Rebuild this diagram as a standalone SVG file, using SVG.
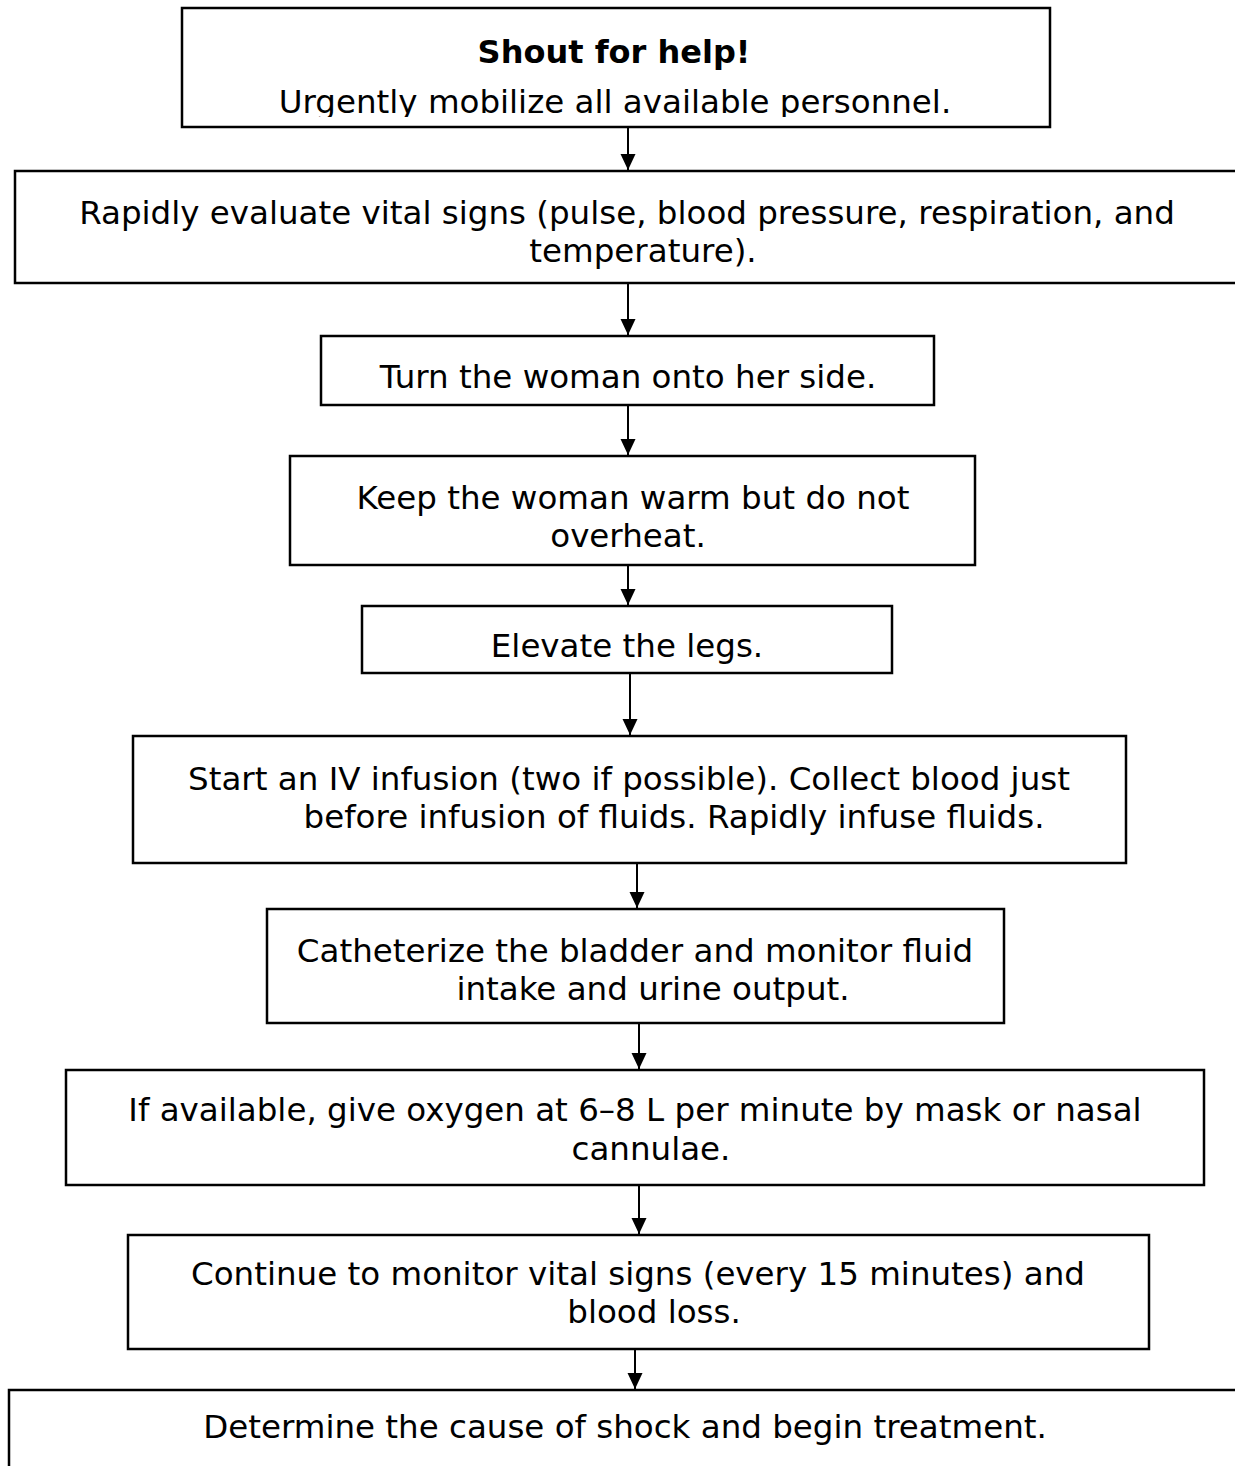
<svg xmlns="http://www.w3.org/2000/svg" width="1235" height="1466" viewBox="0 0 1235 1466">
<style>
.box{fill:#fff;stroke:#000;stroke-width:2.5}
.t{font-family:"DejaVu Sans",Verdana,sans-serif;font-size:32.5px;fill:#000;text-anchor:middle}
.b{font-weight:bold;font-size:32px}
.c{stroke:#000;stroke-width:2;fill:none}
</style>
<defs>
<marker id="a" viewBox="0 0 16 16" refX="16" refY="8" markerWidth="16" markerHeight="16" markerUnits="userSpaceOnUse" orient="auto"><path d="M0,0.5 L16,8 L0,15.5 Z" fill="#000"/></marker>
<clipPath id="clip1"><rect x="182" y="7" width="868" height="110"/></clipPath>
</defs>
<g id="connectors">
<line class="c" x1="628" y1="127" x2="628" y2="170" marker-end="url(#a)"/>
<line class="c" x1="628" y1="283" x2="628" y2="335" marker-end="url(#a)"/>
<line class="c" x1="628" y1="405" x2="628" y2="455" marker-end="url(#a)"/>
<line class="c" x1="628" y1="565" x2="628" y2="605" marker-end="url(#a)"/>
<line class="c" x1="630" y1="673" x2="630" y2="735" marker-end="url(#a)"/>
<line class="c" x1="637" y1="863" x2="637" y2="908" marker-end="url(#a)"/>
<line class="c" x1="639" y1="1023" x2="639" y2="1069" marker-end="url(#a)"/>
<line class="c" x1="639" y1="1185" x2="639" y2="1234" marker-end="url(#a)"/>
<line class="c" x1="635" y1="1349" x2="635" y2="1389" marker-end="url(#a)"/>
</g>
<g id="n1">
<rect class="box" x="182" y="8" width="868" height="119"/>
<text class="t b" x="614" y="63">Shout for help!</text>
<text class="t" x="615" y="113" clip-path="url(#clip1)">Urgently mobilize all available personnel.</text>
</g>
<g id="n2">
<rect class="box" x="15" y="171" width="1240" height="112"/>
<text class="t" x="627" y="224">Rapidly evaluate vital signs (pulse, blood pressure, respiration, and</text>
<text class="t" x="643" y="262">temperature).</text>
</g>
<g id="n3">
<rect class="box" x="321" y="336" width="613" height="69"/>
<text class="t" x="628" y="388">Turn the woman onto her side.</text>
</g>
<g id="n4">
<rect class="box" x="290" y="456" width="685" height="109"/>
<text class="t" x="633" y="509">Keep the woman warm but do not</text>
<text class="t" x="628" y="547">overheat.</text>
</g>
<g id="n5">
<rect class="box" x="362" y="606" width="530" height="67"/>
<text class="t" x="627" y="657">Elevate the legs.</text>
</g>
<g id="n6">
<rect class="box" x="133" y="736" width="993" height="127"/>
<text class="t" x="629" y="790">Start an IV infusion (two if possible). Collect blood just</text>
<text class="t" x="674" y="828">before infusion of fluids. Rapidly infuse fluids.</text>
</g>
<g id="n7">
<rect class="box" x="267" y="909" width="737" height="114"/>
<text class="t" x="635" y="962">Catheterize the bladder and monitor fluid</text>
<text class="t" x="653" y="1000">intake and urine output.</text>
</g>
<g id="n8">
<rect class="box" x="66" y="1070" width="1138" height="115"/>
<text class="t" x="635" y="1121">If available, give oxygen at 6–8 L per minute by mask or nasal</text>
<text class="t" x="651" y="1160">cannulae.</text>
</g>
<g id="n9">
<rect class="box" x="128" y="1235" width="1021" height="114"/>
<text class="t" x="638" y="1285">Continue to monitor vital signs (every 15 minutes) and</text>
<text class="t" x="654" y="1323">blood loss.</text>
</g>
<g id="n10">
<rect class="box" x="9" y="1390" width="1250" height="100"/>
<text class="t" x="625" y="1438">Determine the cause of shock and begin treatment.</text>
</g>
</svg>
